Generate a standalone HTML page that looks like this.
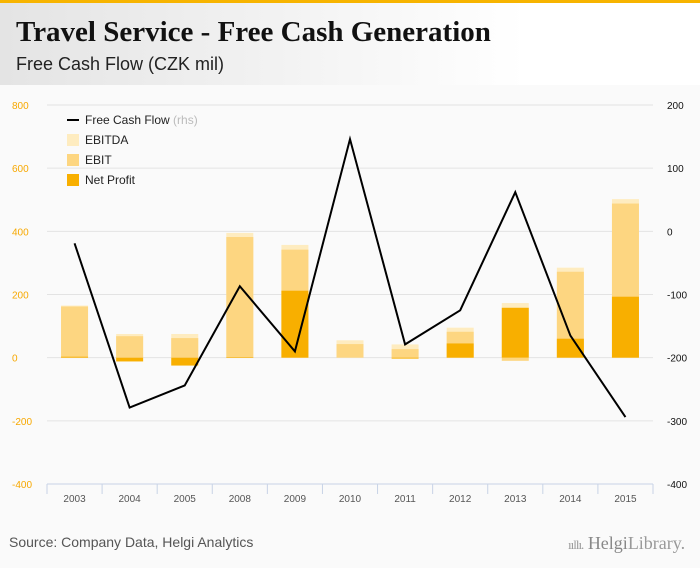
<!DOCTYPE html>
<html><head><meta charset="utf-8"><style>
body{margin:0;width:700px;height:568px;background:#fafafa;font-family:"Liberation Sans",sans-serif;overflow:hidden;position:relative}
#topbar{position:absolute;left:0;top:0;width:700px;height:3px;background:#f7b400}
#header{position:absolute;left:0;top:3px;width:700px;height:82px;background:linear-gradient(90deg,#e4e4e4,#ffffff 75%)}
#title{position:absolute;left:16px;top:13px;font-family:"Liberation Serif",serif;font-weight:bold;font-size:29px;color:#111}
#subtitle{position:absolute;left:16px;top:51px;font-size:18px;color:#222}
#source{position:absolute;left:9px;top:534px;font-size:14px;color:#555}
#logo{position:absolute;left:568px;top:533px;font-family:"Liberation Serif",serif;font-size:18px;color:#999}
</style></head><body>
<div id="topbar"></div>
<div id="header">
<div id="title">Travel Service - Free Cash Generation</div>
<div id="subtitle">Free Cash Flow (CZK mil)</div>
</div>
<svg id="chart" width="700" height="568" style="position:absolute;left:0;top:0"></svg>
<div id="source">Source: Company Data, Helgi Analytics</div>
<div id="logo"><span style="font-size:13px;letter-spacing:-1px">ııllı.</span> <b style="font-weight:normal;color:#888">Helgi</b>Library.</div>
<script>
const categories=["2003","2004","2005","2008","2009","2010","2011","2012","2013","2014","2015"];
const ebitda=[165,75,75,395,357,55,42,95,173,285,502];
const ebit=[162,68,62,382,342,43,27,82,-10,272,488];
const netProfit=[3,-12,-25,2,212,0,-3,45,158,60,193];
const fcf=[-19,-279,-244,-87,-190,146,-179,-125,62,-165,-294];
const leftTicks=[800,600,400,200,0,-200,-400];
const rightTicks=[200,100,0,-100,-200,-300,-400];
const svg=document.getElementById('chart');
const NS="http://www.w3.org/2000/svg";
const x0=47,x1=653,yTop=105,yBot=484;
const step=(x1-x0)/categories.length;
const yL=v=>yBot-(v+400)/1200*(yBot-yTop);
const yR=v=>yBot-(v+400)/600*(yBot-yTop);
const xC=i=>x0+step*(i+0.5);
function mk(tag,attrs){const e=document.createElementNS(NS,tag);for(const k in attrs)e.setAttribute(k,attrs[k]);svg.appendChild(e);return e;}
leftTicks.forEach(v=>{
 if(v!==-400){const g=mk('line',{x1:x0,x2:x1,y1:yL(v),y2:yL(v),stroke:'#e3e3e3','stroke-width':1});
 
 }
 const t=mk('text',{x:12,y:yL(v)+4,'font-size':10,fill:'#f7a800'});t.textContent=v;
 
 
});
rightTicks.forEach(v=>{
 const t=mk('text',{x:667,y:yR(v)+4,'font-size':10,fill:'#111'});t.textContent=v;
 
 
});
const ax=mk('line',{x1:x0,x2:x1,y1:yBot,y2:yBot,stroke:'#c8d3e6'});


for(let i=0;i<=categories.length;i++){
 const tk=mk('line',{x1:x0+step*i,x2:x0+step*i,y1:yBot,y2:yBot+10,stroke:'#c8d3e6'});
 
 
}
const bw=27;
function bar(v,i,color,name){
 const y=Math.min(yL(0),yL(v)),h=Math.abs(yL(v)-yL(0));
 const r=mk('rect',{x:xC(i)-bw/2,y:y,width:bw,height:Math.max(h,0),fill:color});
 
 
}
categories.forEach((c,i)=>{
 bar(ebitda[i],i,'#feecc0','bar-ebitda-'+c);
 bar(ebit[i],i,'#fdd681','bar-ebit-'+c);
 bar(netProfit[i],i,'#f8af00','bar-net-profit-'+c);
 const t=mk('text',{x:xC(i),y:502,'font-size':10,fill:'#555','text-anchor':'middle'});t.textContent=c;
 
 
});
const pl=mk('polyline',{points:fcf.map((v,i)=>xC(i)+','+yR(v)).join(' '),fill:'none',stroke:'#000','stroke-width':2});


const lg=[['line','#000','Free Cash Flow','legend-free-cash-flow'],['rect','#feecc0','EBITDA','legend-ebitda'],['rect','#fdd681','EBIT','legend-ebit'],['rect','#f8af00','Net Profit','legend-net-profit']];
lg.forEach((l,k)=>{
 const y=120+k*20;
 if(l[0]==='line'){const s=mk('line',{x1:67,x2:79,y1:y,y2:y,stroke:'#000','stroke-width':2});}
 else{const s=mk('rect',{x:67,y:y-6,width:12,height:12,fill:l[1]});}
 const t=mk('text',{x:85,y:y+4,'font-size':12,fill:'#222'});t.textContent=l[2];
 if(k===0){const sp=document.createElementNS(NS,'tspan');sp.setAttribute('fill','#bbb');sp.textContent=' (rhs)';t.appendChild(sp);}
 
 
});
</script>
</body></html>
